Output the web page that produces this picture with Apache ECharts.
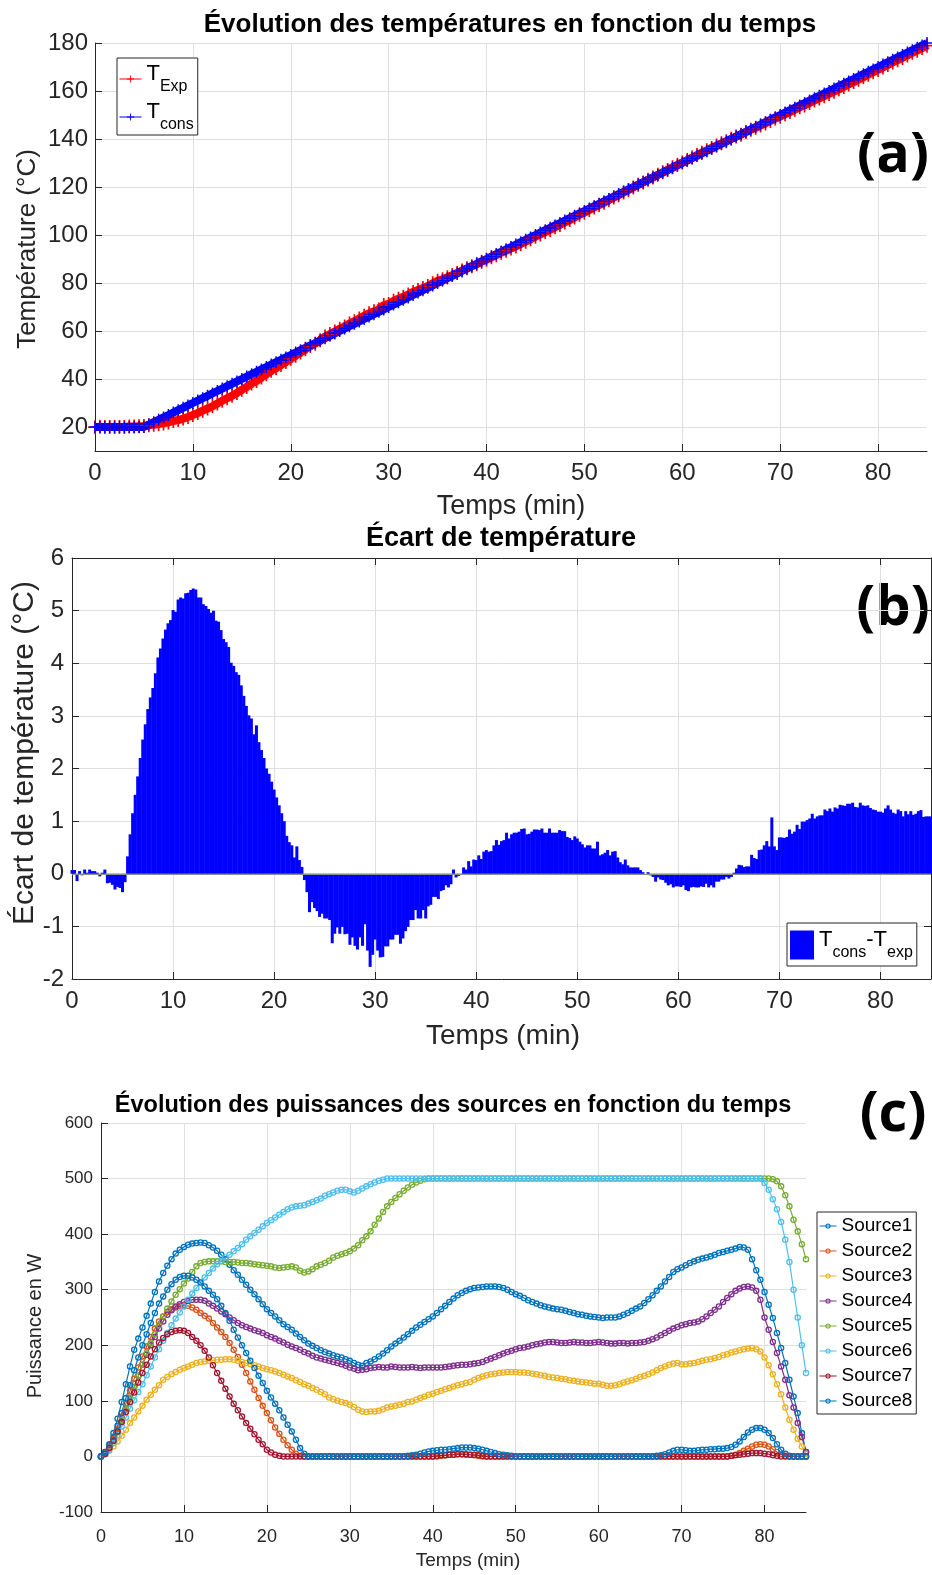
<!DOCTYPE html>
<html>
<head>
<meta charset="utf-8">
<script src="https://cdn.jsdelivr.net/npm/echarts@6/dist/echarts.min.js"></script>
<style>
html,body{margin:0;padding:0;background:#ffffff;}
#chart{width:932px;height:1575px;}
</style>
</head>
<body>
<div id="chart"></div>
<script>
// ================= DATA =================
const timeTicks = [0, 10, 20, 30, 40, 50, 60, 70, 80];
const tempTicks = [20, 40, 60, 80, 100, 120, 140, 160, 180];
const ecartTicks = [-2, -1, 0, 1, 2, 3, 4, 5, 6];
const powerTicks = [-100, 0, 100, 200, 300, 400, 500, 600];

// (a) temperatures, one value every 0.5 min from 0 to 85 min
const tempStep = 0.5;
const tCons = [
 20,20,20,20,20,20,20,20,20,20,
 20,21,22,23,24,25,26,27,28,29,
 30,31,32,33,34,35,36,37,38,39,
 40,41,42,43,44,45,46,47,48,49,
 50,51,52,53,54,55,56,57,58,59,
 60,61,62,63,64,65,66,67,68,69,
 70,71,72,73,74,75,76,77,78,79,
 80,81,82,83,84,85,86,87,88,89,
 90,91,92,93,94,95,96,97,98,99,
 100,101,102,103,104,105,106,107,108,109,
 110,111,112,113,114,115,116,117,118,119,
 120,121,122,123,124,125,126,127,128,129,
 130,131,132,133,134,135,136,137,138,139,
 140,141,142,143,144,145,146,147,148,149,
 150,151,152,153,154,155,156,157,158,159,
 160,161,162,163,164,165,166,167,168,169,
 170,171,172,173,174,175,176,177,178,179,
 180];
const tExp = [
 19.9,20.1,20.0,20.0,20.0,20.0,20.0,20.2,20.2,20.3,
 20.4,20.7,20.9,21.2,21.5,21.9,22.5,22.9,23.5,24.2,
 25.0,25.8,26.8,27.7,28.6,29.8,30.9,32.0,33.0,34.2,
 35.5,36.7,38.1,39.2,40.6,42.0,43.4,44.5,45.8,47.1,
 48.4,49.7,51.0,52.4,53.7,54.7,56.1,57.7,58.7,59.8,
 60.9,61.9,63.1,64.1,65.2,66.4,67.4,68.2,69.0,70.8,
 71.3,72.6,73.4,74.3,75.2,76.3,77.1,77.9,78.7,79.9,
 80.9,81.6,82.4,83.3,84.2,85.2,86.1,87.0,87.9,88.9,
 89.7,90.7,91.6,92.6,93.4,94.4,95.2,96.3,97.2,98.2,
 99.3,100.2,101.2,102.1,103.2,104.2,105.2,106.2,107.3,108.4,
 109.3,110.4,111.5,112.5,113.4,114.6,115.6,116.6,117.7,118.8,
 119.8,120.9,121.9,123.0,124.0,125.1,126.1,127.1,128.2,129.3,
 130.2,131.2,132.3,133.3,134.3,135.3,136.3,137.3,138.2,139.1,
 140.1,141.0,141.8,142.9,143.9,144.7,145.6,146.5,147.5,148.5,
 149.3,150.3,151.2,152.2,153.2,154.0,155.0,156.0,156.9,157.8,
 158.8,159.7,160.7,161.7,162.7,163.7,164.7,165.7,166.8,167.8,
 168.8,169.8,170.8,171.9,172.8,173.8,174.8,175.9,176.8,177.9,
 178.9];

// (b) Tcons - Texp, one bar every 0.25 min from 0 to 85 min
const ecartStep = 0.25;
const ecart = [
 0.07,0.07,-0.14,0.05,-0.03,0.08,0.02,0.08,0.05,0.05,0.02,-0.05,0.02,0.08,-0.18,-0.17,-0.21,-0.30,-0.25,-0.27,
 -0.35,-0.16,0.33,0.75,1.15,1.5,1.85,2.2,2.55,2.84,3.13,3.35,3.53,3.81,4.11,4.28,4.47,4.64,4.76,4.82,
 5.01,4.98,5.21,5.25,5.23,5.33,5.34,5.39,5.42,5.40,5.25,5.25,5.12,5.09,5.03,4.96,5.00,4.81,4.79,4.63,
 4.46,4.40,4.31,4.01,3.95,3.83,3.78,3.58,3.38,3.19,3.01,2.95,2.65,2.82,2.5,2.35,2.2,2.0,1.9,1.75,
 1.6,1.45,1.3,1.15,1.0,0.72,0.60,0.54,0.31,0.52,0.26,0.13,-0.12,-0.35,-0.73,-0.54,-0.65,-0.71,-0.82,-0.76,
 -0.85,-0.85,-0.88,-1.32,-1.14,-1.02,-1.14,-1.01,-1.15,-1.14,-1.35,-1.21,-1.37,-1.44,-1.21,-1.37,-0.96,-1.46,-1.77,-1.54,
 -1.25,-1.46,-1.59,-1.58,-1.38,-1.38,-1.25,-1.25,-1.16,-1.16,-1.33,-1.23,-1.09,-1.01,-0.88,-0.88,-0.69,-0.85,-0.85,-0.69,
 -0.85,-0.62,-0.59,-0.44,-0.44,-0.48,-0.33,-0.31,-0.22,-0.26,-0.20,0.08,-0.07,-0.04,-0.02,0.12,0.08,0.24,0.14,0.27,
 0.26,0.35,0.28,0.42,0.45,0.42,0.43,0.54,0.64,0.55,0.62,0.64,0.78,0.67,0.75,0.78,0.78,0.80,0.85,0.86,
 0.75,0.76,0.80,0.84,0.84,0.83,0.86,0.78,0.78,0.86,0.78,0.78,0.78,0.83,0.81,0.81,0.70,0.68,0.64,0.71,
 0.67,0.61,0.56,0.50,0.54,0.54,0.48,0.48,0.61,0.35,0.37,0.40,0.45,0.35,0.42,0.43,0.31,0.22,0.18,0.27,
 0.16,0.12,0.12,0.12,0.12,0.07,0.03,0.00,0.03,-0.03,-0.06,-0.15,-0.07,-0.11,-0.12,-0.17,-0.22,-0.20,-0.26,-0.24,
 -0.24,-0.25,-0.22,-0.31,-0.33,-0.26,-0.25,-0.26,-0.26,-0.24,-0.25,-0.19,-0.26,-0.22,-0.26,-0.15,-0.15,-0.11,-0.11,-0.06,
 -0.09,-0.06,0.02,0.10,0.17,0.16,0.13,0.14,0.14,0.36,0.30,0.28,0.45,0.46,0.54,0.62,0.52,1.07,0.52,0.45,
 0.69,0.69,0.68,0.70,0.84,0.76,0.80,0.93,0.85,0.99,0.99,1.02,1.05,1.14,1.05,1.09,1.11,1.11,1.22,1.19,
 1.24,1.18,1.26,1.24,1.31,1.30,1.29,1.33,1.33,1.35,1.27,1.26,1.35,1.30,1.29,1.30,1.25,1.22,1.21,1.18,
 1.18,1.16,1.24,1.30,1.22,1.16,1.14,1.22,1.19,1.09,1.19,1.13,1.19,1.12,1.14,1.19,1.21,1.08,1.09,1.09,
 1.09];

// (c) source powers (W), one value every 0.5 min from 0 to 85 min
const powerStep = 0.5;
const source1 = [
 0,8,22,42,68,98,130,162,192,212,
 232,253,275,296,315,330,343,355,365,372,
 377,381,383,384,385,384,380,376,370,363,
 355,345,335,327,318,309,300,292,283,274,
 265,258,252,245,238,233,228,221,215,209,
 203,199,195,191,188,185,182,180,178,175,
 172,168,165,163,168,171,175,180,185,191,
 198,203,208,214,220,226,232,237,242,247,
 252,258,265,271,278,284,290,294,298,301,
 303,304,305,306,306,306,305,303,300,296,
 292,289,285,281,278,275,272,270,268,266,
 265,264,262,260,258,256,255,253,252,251,
 250,249,250,250,250,252,255,258,262,266,
 270,276,283,290,298,306,315,323,332,337,
 340,344,348,351,354,356,358,360,363,366,
 368,370,372,374,377,376,372,355,335,318,
 296,273,249,222,195,168,138,108,78,42,
 8];
const source2 = [
 0,7,18,32,50,72,95,118,140,160,
 180,198,215,230,243,252,260,265,268,271,
 272,271,268,264,258,253,248,240,232,224,
 215,204,192,179,165,150,135,120,105,91,
 78,65,52,41,30,20,12,5,1,0,
 0,0,0,0,0,0,0,0,0,0,
 0,0,0,0,0,0,0,0,0,0,
 0,0,0,0,0,0,0,0,0,0,
 0,0,1,2,3,3,4,4,3,3,
 2,1,0,0,0,0,0,0,0,0,
 0,0,0,0,0,0,0,0,0,0,
 0,0,0,0,0,0,0,0,0,0,
 0,0,0,0,0,0,0,0,0,0,
 0,0,0,0,0,0,0,0,0,0,
 0,0,0,0,0,0,0,0,0,0,
 0,0,1,3,6,10,14,18,21,22,
 21,18,13,8,4,1,0,0,0,0,
 0];
const source3 = [
 0,4,10,18,27,37,48,60,70,81,
 91,102,111,120,128,138,143,148,152,156,
 159,162,165,168,170,171,172,173,174,174,
 175,175,174,172,170,168,166,164,162,159,
 157,155,153,150,147,144,141,137,134,130,
 127,123,120,116,112,106,103,100,98,96,
 93,89,84,81,80,81,81,82,85,88,
 90,91,93,95,98,99,102,105,108,111,
 113,116,118,121,123,126,128,130,132,134,
 138,141,144,146,148,149,150,151,152,152,
 152,151,151,150,149,148,146,145,143,142,
 141,140,139,137,136,135,134,133,132,131,
 131,129,127,127,128,130,133,135,137,140,
 143,145,148,151,155,159,162,165,167,168,
 166,166,167,168,170,172,174,175,177,179,
 182,184,187,189,191,193,194,195,193,189,
 178,164,148,130,112,88,66,48,32,18,
 5];
const source4 = [
 0,6,15,28,45,64,85,105,125,145,
 165,183,200,215,230,243,255,263,270,274,
 278,280,282,282,282,280,275,271,266,261,
 256,250,245,240,236,233,230,227,225,222,
 218,215,212,208,205,201,198,195,192,188,
 185,181,178,176,174,172,170,168,166,163,
 160,158,155,156,157,159,160,161,160,160,
 162,161,160,160,160,161,160,159,160,160,
 160,160,160,161,162,163,164,165,165,166,
 167,168,170,173,176,179,182,185,188,190,
 193,195,196,198,200,202,203,205,206,206,
 205,204,204,205,206,205,205,204,204,205,
 206,205,204,203,203,204,204,203,204,204,
 205,206,208,211,214,218,222,226,230,233,
 236,238,240,241,243,247,252,258,264,270,
 278,285,292,298,302,305,306,304,298,282,
 250,228,206,186,162,138,110,88,60,35,
 8];
const source5 = [
 0,6,15,28,45,65,85,105,125,145,
 165,185,203,220,236,252,266,279,291,301,
 311,320,332,342,348,350,351,351,351,351,
 350,350,350,349,348,348,347,346,345,344,
 343,342,340,339,340,341,342,340,334,331,
 333,337,342,345,348,352,358,361,364,366,
 369,374,380,389,396,405,417,428,440,450,
 458,465,472,478,484,489,493,496,499,500,
 500,500,500,500,500,500,500,500,500,500,
 500,500,500,500,500,500,500,500,500,500,
 500,500,500,500,500,500,500,500,500,500,
 500,500,500,500,500,500,500,500,500,500,
 500,500,500,500,500,500,500,500,500,500,
 500,500,500,500,500,500,500,500,500,500,
 500,500,500,500,500,500,500,500,500,500,
 500,500,500,500,500,500,500,500,500,500,
 500,500,499,495,486,470,450,426,405,382,
 355];
const source6 = [
 0,4,12,24,38,54,70,86,101,116,
 130,146,162,178,193,208,222,236,248,259,
 270,282,293,303,313,322,330,338,346,352,
 358,363,369,375,382,390,396,402,408,414,
 420,425,430,435,440,445,448,450,451,452,
 455,458,461,464,469,472,475,478,480,480,
 477,475,478,482,486,490,493,496,498,500,
 500,500,500,500,500,500,500,500,500,500,
 500,500,500,500,500,500,500,500,500,500,
 500,500,500,500,500,500,500,500,500,500,
 500,500,500,500,500,500,500,500,500,500,
 500,500,500,500,500,500,500,500,500,500,
 500,500,500,500,500,500,500,500,500,500,
 500,500,500,500,500,500,500,500,500,500,
 500,500,500,500,500,500,500,500,500,500,
 500,500,500,500,500,500,500,500,500,500,
 492,480,463,445,422,390,350,300,250,200,
 150];
const source7 = [
 0,5,15,28,45,62,80,98,115,133,
 150,165,180,193,205,213,220,224,226,227,
 226,222,215,208,200,190,178,164,150,136,
 122,108,95,83,72,60,50,40,30,22,
 12,7,3,1,0,0,0,0,0,0,
 0,0,0,0,0,0,0,0,0,0,
 0,0,0,0,0,0,0,0,0,0,
 0,0,0,0,0,0,0,0,0,0,
 0,1,2,2,3,3,4,4,4,3,
 3,2,1,0,0,0,0,0,0,0,
 0,0,0,0,0,0,0,0,0,0,
 0,0,0,0,0,0,0,0,0,0,
 0,0,0,0,0,0,0,0,0,0,
 0,0,0,0,0,0,0,0,0,0,
 0,0,0,0,0,0,0,0,0,0,
 0,0,1,2,3,4,5,6,6,6,
 5,4,2,1,0,0,0,0,0,0,
 0];
const source8 = [
 0,8,20,35,55,78,105,128,155,178,
 200,220,240,258,275,288,300,310,318,323,
 325,325,322,318,313,306,298,291,283,271,
 258,244,228,214,200,186,172,159,145,132,
 118,106,95,83,70,57,45,30,15,5,
 0,0,0,0,0,0,0,0,0,0,
 0,0,0,0,0,0,0,0,0,0,
 0,0,0,0,1,2,3,5,7,9,
 10,11,12,12,13,14,15,16,16,16,
 15,14,12,10,8,6,4,3,2,1,
 0,0,0,0,0,0,0,0,0,0,
 0,0,0,0,0,0,0,0,0,0,
 0,0,0,0,0,0,0,0,0,0,
 0,0,0,0,1,2,4,7,10,12,
 12,11,10,10,11,12,12,13,13,14,
 14,15,17,21,27,35,43,48,51,51,
 48,42,33,22,12,5,1,0,0,0,
 0];
const sourceNames = ['Source1','Source2','Source3','Source4','Source5','Source6','Source7','Source8'];
const sourceColors = ['#0072BD','#D95319','#EDB120','#7E2F8E','#77AC30','#4DBEEE','#A2142F','#0072BD'];

// ================= CHART =================
const FONT = '"Liberation Sans", Arial, Helvetica, sans-serif';
const AX = '#262626';
const GRIDC = '#dfdfdf';
const pairs = (step, arr) => arr.map((v, i) => [i * step, v]);
const PLUS = 'path://M4.4,0h1.2v4.4h4.4v1.2h-4.4v4.4h-1.2v-4.4h-4.4v-1.2h4.4z';
const RING = 'path://M5,0A5,5,0,1,1,4.99,0ZM5,2A3,3,0,1,0,5.01,2Z';

function mkAxis(o) {
  return {
    type: 'value', gridIndex: o.grid, position: o.position, min: o.min, max: o.max,
    axisLine: {show: true, onZero: false, lineStyle: {color: AX, width: 1}},
    axisTick: {show: true, inside: true, length: 7, customValues: o.ticks, lineStyle: {color: AX, width: 1}},
    axisLabel: {show: o.labels !== false, customValues: o.ticks, color: AX, fontSize: o.fontSize || 20,
                fontFamily: FONT, margin: o.margin || 10},
    splitLine: {show: o.split !== false, lineStyle: {color: GRIDC, width: 1}}
  };
}

const chart = echarts.init(document.getElementById('chart'), null, {renderer: 'canvas'});

const subRich = {
  a: {fontSize: 22, fontFamily: FONT, color: '#000', verticalAlign: 'top'},
  b: {fontSize: 16, fontFamily: FONT, color: '#000', padding: [16, 0, 0, 0]}
};

const series = [
  {name: 'T_Exp', type: 'line', xAxisIndex: 0, yAxisIndex: 0, data: pairs(tempStep, tExp),
   symbol: PLUS, symbolSize: 14, showSymbol: true, color: '#ff0000',
   lineStyle: {width: 8, color: '#ff0000'}, itemStyle: {color: '#ff0000'}},
  {name: 'T_cons', type: 'line', xAxisIndex: 0, yAxisIndex: 0, data: pairs(tempStep, tCons),
   symbol: PLUS, symbolSize: 12, showSymbol: true, color: '#0000ff',
   lineStyle: {width: 8, color: '#0000ff'}, itemStyle: {color: '#0000ff'}},
  {name: 'Tcons-Texp', type: 'bar', xAxisIndex: 1, yAxisIndex: 1, data: pairs(ecartStep, ecart),
   barWidth: 3, itemStyle: {color: '#0000ff'}, color: '#0000ff',
   markLine: {silent: true, symbol: 'none', label: {show: false},
              lineStyle: {color: '#8c8c8c', width: 1, type: 'solid'}, data: [{yAxis: 0}]}}
];
sourceNames.forEach((nm, k) => {
  const src = [source1, source2, source3, source4, source5, source6, source7, source8][k];
  series.push({
    name: nm, type: 'line', xAxisIndex: 3, yAxisIndex: 3, data: pairs(powerStep, src),
    symbol: RING, symbolSize: 6.5, showSymbol: true, color: sourceColors[k],
    lineStyle: {width: 1.2, color: sourceColors[k]}, itemStyle: {color: sourceColors[k]}
  });
});

function label(text, x, y, size, rotate, bold) {
  return {type: 'text', x: x, y: y, rotation: rotate ? Math.PI / 2 : 0,
    style: {text: text, font: (bold ? 'bold ' : '') + size + 'px "Liberation Sans", Arial, sans-serif',
            fill: bold ? '#000' : AX, textAlign: 'center', textVerticalAlign: 'middle'}};
}

const option = {
  animation: false,
  backgroundColor: '#ffffff',
  grid: [
    {left: 95, top: 43, width: 832, height: 408, outerBoundsMode: 'none'},
    {left: 72, top: 558, width: 859, height: 421, outerBoundsMode: 'none'},
    {left: 101, top: 1123, width: 705, height: 389, outerBoundsMode: 'none'}
  ],
  xAxis: [
    mkAxis({grid: 0, position: 'bottom', min: 0, max: 85, ticks: timeTicks, fontSize: 24, margin: 10}),
    mkAxis({grid: 1, position: 'bottom', min: 0, max: 85, ticks: timeTicks, fontSize: 24, margin: 10}),
    mkAxis({grid: 1, position: 'top', min: 0, max: 85, ticks: timeTicks, labels: false, split: false}),
    mkAxis({grid: 2, position: 'bottom', min: 0, max: 85, ticks: timeTicks, fontSize: 18, margin: 16})
  ],
  yAxis: [
    mkAxis({grid: 0, position: 'left', min: 10, max: 180, ticks: tempTicks, fontSize: 24, margin: 7}),
    mkAxis({grid: 1, position: 'left', min: -2, max: 6, ticks: ecartTicks, fontSize: 24, margin: 8}),
    mkAxis({grid: 1, position: 'right', min: -2, max: 6, ticks: ecartTicks, labels: false, split: false}),
    mkAxis({grid: 2, position: 'left', min: -100, max: 600, ticks: powerTicks, fontSize: 17, margin: 8})
  ],
  legend: [
    {data: ['T_Exp', 'T_cons'], orient: 'vertical', left: 117, top: 58, selectedMode: false,
     padding: [5, 4, 2, 2], itemWidth: 22, itemHeight: 9, itemGap: 6,
     backgroundColor: '#ffffff', borderColor: AX, borderWidth: 1, borderRadius: 0,
     itemStyle: {borderWidth: 0}, lineStyle: {width: 1},
     formatter: n => n === 'T_Exp' ? '{a|T}{b|Exp}' : '{a|T}{b|cons}',
     textStyle: {rich: subRich}},
    {data: ['Tcons-Texp'], orient: 'vertical', left: 787, top: 923, selectedMode: false, icon: 'rect',
     padding: [6, 4, 5, 3], itemWidth: 24, itemHeight: 29,
     backgroundColor: '#ffffff', borderColor: AX, borderWidth: 1, borderRadius: 0,
     formatter: () => '{a|T}{b|cons}{a|-T}{b|exp}',
     textStyle: {rich: subRich}},
    {data: sourceNames, orient: 'vertical', left: 817, top: 1212, selectedMode: false,
     padding: [4, 4, 3, 2], itemWidth: 17, itemHeight: 6.5, itemGap: 5,
     backgroundColor: '#ffffff', borderColor: AX, borderWidth: 1, borderRadius: 0,
     lineStyle: {width: 1},
     textStyle: {fontSize: 19, fontFamily: FONT, color: '#000', lineHeight: 20}}
  ],
  graphic: [
    label('Évolution des températures en fonction du temps', 510, 25, 26, false, true),
    label('Écart de température', 501, 539, 27, false, true),
    label('Évolution des puissances des sources en fonction du temps', 453, 1106, 23.5, false, true),
    label('Température (°C)', 28, 249, 26, true, false),
    label('Temps (min)', 511, 507, 27, false, false),
    label('Écart de température (°C)', 25, 753, 30, true, false),
    label('Temps (min)', 503, 1036, 28, false, false),
    label('Puissance en W', 35, 1326, 20, true, false),
    label('Temps (min)', 468, 1561, 19, false, false),
    {type: 'text', x: 893, y: 156, style: {text: '(a)', font: 'bold 56px "Open Sans", Lato, sans-serif',
      fill: '#000', textAlign: 'center', textVerticalAlign: 'middle'}},
    {type: 'text', x: 893, y: 609, style: {text: '(b)', font: 'bold 56px "Open Sans", Lato, sans-serif',
      fill: '#000', textAlign: 'center', textVerticalAlign: 'middle'}},
    {type: 'text', x: 893, y: 1115, style: {text: '(c)', font: 'bold 56px "Open Sans", Lato, sans-serif',
      fill: '#000', textAlign: 'center', textVerticalAlign: 'middle'}}
  ],
  series: series
};
chart.setOption(option);
</script>
</body>
</html>
